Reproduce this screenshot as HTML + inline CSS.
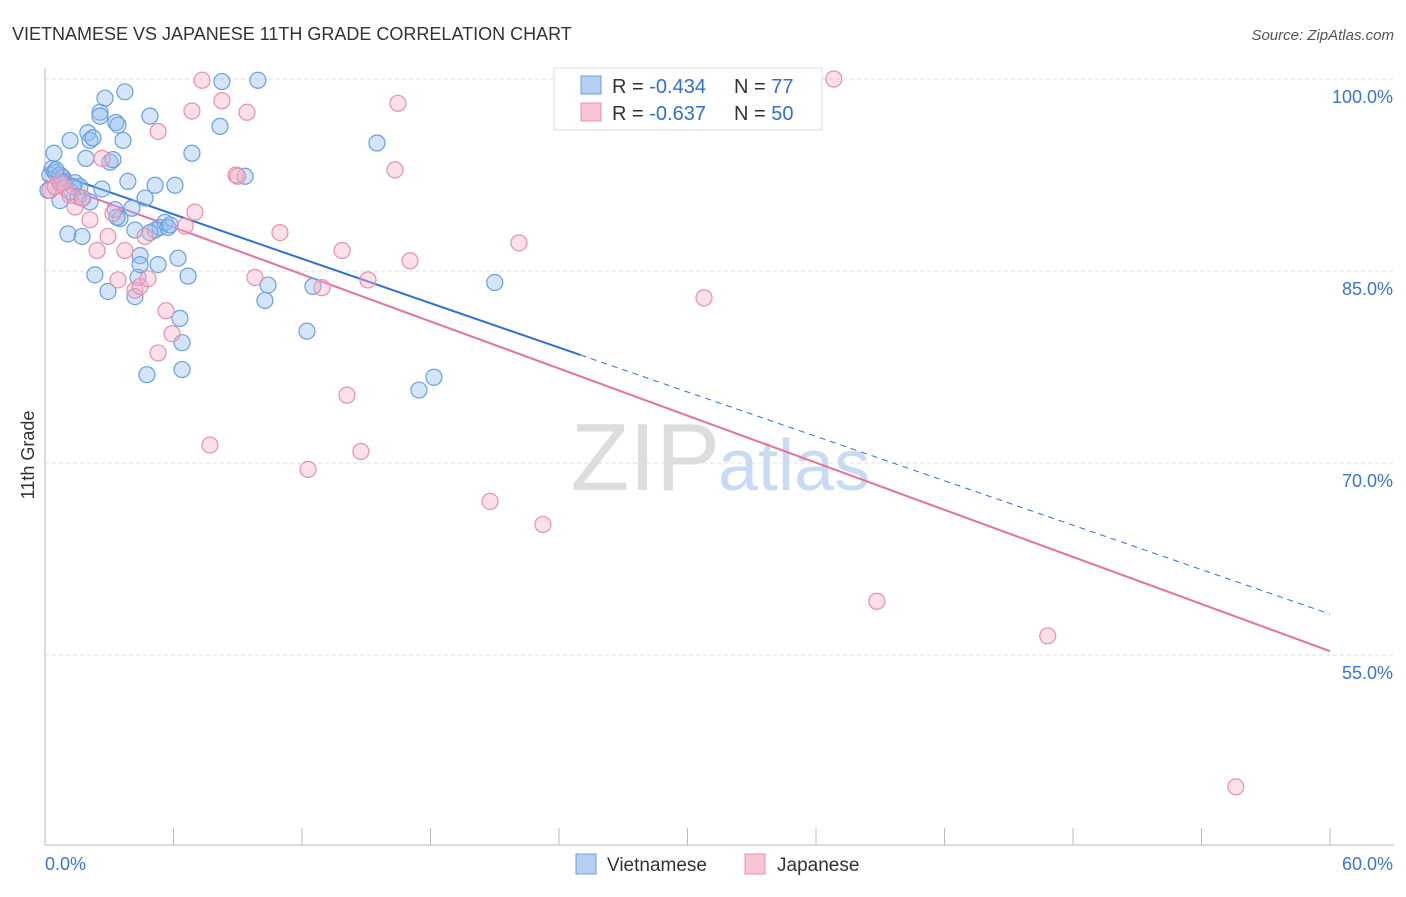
<!DOCTYPE html>
<html><head><meta charset="utf-8">
<style>
body{margin:0;background:#fff;font-family:"Liberation Sans",sans-serif;}
svg text{font-family:"Liberation Sans",sans-serif;}
</style></head>
<body>
<svg id="chart" width="1406" height="892" xmlns="http://www.w3.org/2000/svg">
<text x="12" y="40" font-size="18" fill="#333">VIETNAMESE VS JAPANESE 11TH GRADE CORRELATION CHART</text>
<text x="1394" y="40" font-size="15" fill="#555" text-anchor="end" font-style="italic">Source: ZipAtlas.com</text>
<text x="720" y="490" font-size="96" fill="#ddd" text-anchor="end" font-family="Liberation Serif">ZIP</text>
<text x="718" y="490" font-size="72" fill="#c9dbf3">atlas</text>
<text x="34" y="455" font-size="18" fill="#333" text-anchor="middle" transform="rotate(-90 34 455)">11th Grade</text>
<g id="grid"></g><g id="ticks"></g><g id="trends"></g><g id="pts"></g>
<g>
<rect x="554" y="68" width="268" height="62" fill="#fff" stroke="#ddd"/>
<rect x="581" y="76" width="20" height="18" fill="#b4cff2" stroke="#6a9fe0"/>
<rect x="581" y="103" width="20" height="18" fill="#f9c4d3" stroke="#e890aa"/>
<text x="612" y="93" font-size="20" fill="#333">R = <tspan fill="#2f6fd6">-0.434</tspan></text>
<text x="734" y="93" font-size="20" fill="#333">N = <tspan fill="#2f6fd6">77</tspan></text>
<text x="612" y="120" font-size="20" fill="#333">R = <tspan fill="#2f6fd6">-0.637</tspan></text>
<text x="734" y="120" font-size="20" fill="#333">N = <tspan fill="#2f6fd6">50</tspan></text>
</g>
<g>
<rect x="576" y="854" width="20" height="20" fill="#b4cff2" stroke="#6a9fe0"/>
<text x="607" y="871" font-size="19" fill="#333">Vietnamese</text>
<rect x="745" y="854" width="20" height="20" fill="#f9c4d3" stroke="#e890aa"/>
<text x="777" y="871" font-size="19" fill="#333">Japanese</text>
</g>
</svg>
<script>
const yTicks=[100,85,70,55];
const xTickLabels=["0.0%","60.0%"];
const viet_x=[.42,.33,.23,.47,.7,.84,.93,1.17,1.4,1.63,1.77,1.91,2.0,2.1,2.24,2.57,2.66,2.8,2.94,3.03,3.17,3.31,3.41,3.5,3.64,3.73,3.87,4.06,4.2,4.34,4.44,4.44,4.67,4.76,4.9,5.14,5.14,5.28,5.37,5.6,5.74,5.84,6.07,6.21,6.3,6.4,6.4,6.68,6.86,8.17,8.26,9.34,9.94,10.27,10.41,12.23,12.51,15.5,17.46,18.16,21.0,1.07,1.73,2.33,.7,.14,1.17,1.54,2.1,3.27,4.2,4.9,2.57,.84,1.31,.51,3.36];
const viet_y=[94.2,93.0,92.5,92.7,92.5,92.3,92.0,95.2,91.9,91.6,90.7,93.8,95.8,95.2,95.4,97.4,91.4,98.5,83.4,93.5,93.7,96.6,96.4,89.1,95.2,99.0,92.0,89.9,83.0,84.5,86.2,85.5,90.7,76.9,97.1,91.7,88.2,85.5,88.4,88.8,88.4,88.6,91.7,86.0,81.3,79.4,77.3,84.6,94.2,96.3,99.8,92.4,99.9,82.7,83.9,80.3,83.8,95.0,75.7,76.7,84.1,87.9,87.7,84.7,90.5,91.3,91.2,90.8,90.4,89.8,88.2,88.0,97.1,91.9,91.6,92.9,89.2];
const jap_x=[.23,.47,.7,.93,1.17,1.4,1.73,2.1,2.43,2.66,2.94,3.17,3.41,3.73,4.2,4.44,4.67,4.81,5.28,5.28,5.65,5.93,6.54,7.0,6.86,7.33,7.7,8.26,8.92,9.0,9.43,9.8,10.97,12.28,12.93,13.87,14.1,14.75,15.08,16.34,16.48,17.04,20.78,22.13,23.25,30.77,36.83,38.84,46.82,55.6];
const jap_y=[91.3,91.6,91.9,91.5,90.9,90.0,90.7,89.0,86.6,93.8,87.7,89.5,84.3,86.6,83.5,83.8,87.7,84.4,95.9,78.6,81.9,80.1,88.5,89.6,97.5,99.9,71.4,98.3,92.5,92.4,97.4,84.5,88.0,69.5,83.7,86.6,75.3,70.9,84.3,92.9,98.1,85.8,67.0,87.2,65.2,82.9,100.0,59.2,56.5,44.7];
const vietTrend=[92.9,58.2];
const japTrend=[92.1,55.3];
const NS="http://www.w3.org/2000/svg";
const X=v=>45+v*(1285/60);
const Y=v=>79+(100-v)*12.8;
function mk(tag,attrs,parent){const e=document.createElementNS(NS,tag);for(const k in attrs)e.setAttribute(k,attrs[k]);document.getElementById(parent).appendChild(e);return e;}
yTicks.forEach(t=>{
 const l=mk('line',{x1:45,x2:1394,y1:Y(t),y2:Y(t),stroke:'#ddd','stroke-dasharray':'4 3'},'grid');
 
 
 const tx=mk('text',{x:1393,y:Y(t)+24,'font-size':18,fill:'#3a74d8','text-anchor':'end'},'grid');
 tx.textContent=t.toFixed(1)+'%';
 
 
});
mk('line',{x1:45,x2:45,y1:68,y2:845,stroke:'#bbb'},'ticks');
mk('line',{x1:45,x2:1394,y1:845,y2:845,stroke:'#bbb'},'ticks');
for(let i=1;i<=10;i++){mk('line',{x1:X(i*6),x2:X(i*6),y1:828,y2:845,stroke:'#bbb'},'ticks');}
[[0,45,'start'],[60,1393,'end']].forEach((d,i)=>{
 const t=mk('text',{x:d[1],y:870,'font-size':18,fill:'#3a74d8','text-anchor':d[2]},'ticks');
 t.textContent=xTickLabels[i];
 
 
});
const tv=x=>vietTrend[0]+(vietTrend[1]-vietTrend[0])*x/60;
const tj=x=>japTrend[0]+(japTrend[1]-japTrend[0])*x/60;
let a=mk('line',{x1:X(0),y1:Y(tv(0)),x2:X(25),y2:Y(tv(25)),stroke:'#2f6fd6','stroke-width':2},'trends');


a=mk('line',{x1:X(25),y1:Y(tv(25)),x2:X(60),y2:Y(tv(60)),stroke:'#2f6fd6','stroke-width':1,'stroke-dasharray':'6 5'},'trends');


a=mk('line',{x1:X(0),y1:Y(tj(0)),x2:X(60),y2:Y(tj(60)),stroke:'#e8709a','stroke-width':2},'trends');


viet_x.forEach((x,i)=>{
 const c=mk('circle',{cx:X(x),cy:Y(viet_y[i]),r:8,fill:'rgba(150,190,240,0.4)',stroke:'#6a9fe0','stroke-width':1.2},'pts');
 
 
});
jap_x.forEach((x,i)=>{
 const c=mk('circle',{cx:X(x),cy:Y(jap_y[i]),r:8,fill:'rgba(245,175,200,0.4)',stroke:'#e890aa','stroke-width':1.2},'pts');
 
 
});
</script>
</body></html>
